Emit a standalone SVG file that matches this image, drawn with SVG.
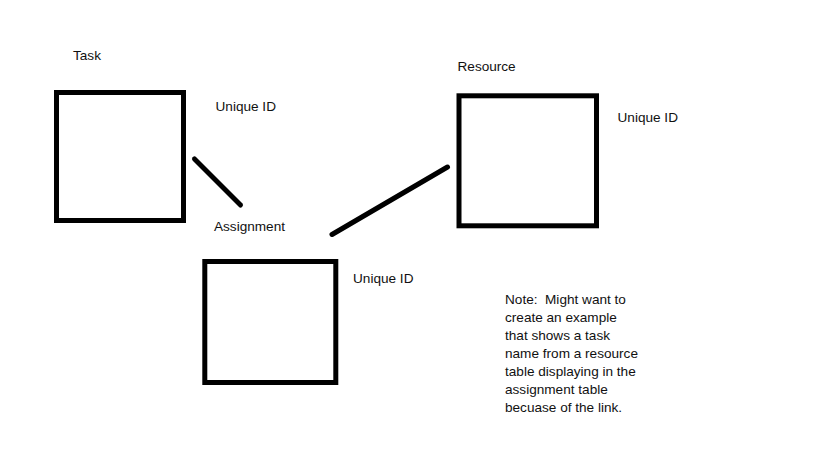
<svg xmlns="http://www.w3.org/2000/svg" width="819" height="460" viewBox="0 0 819 460">
<style>
.box{fill:none;stroke:#000;stroke-width:5}
.lnk{stroke:#000;stroke-width:5;stroke-linecap:round;fill:none}
text{font-family:"Liberation Sans",Arial,sans-serif;font-size:13.6px;fill:#111}
</style>
<rect width="819" height="460" fill="#fff"/>
<g id="task">
<rect class="box" x="56.5" y="92.5" width="127" height="128"/>
<text x="73" y="60">Task</text>
<text x="215.5" y="111">Unique ID</text>
</g>
<g id="assignment">
<rect class="box" x="204.8" y="261.5" width="131" height="121"/>
<text x="214" y="231">Assignment</text>
<text x="353" y="283">Unique ID</text>
</g>
<g id="resource">
<rect class="box" x="459" y="95.8" width="137.5" height="130"/>
<text x="457.5" y="71">Resource</text>
<text x="617.5" y="122">Unique ID</text>
</g>
<g id="connectors">
<line class="lnk" x1="194.5" y1="159" x2="240.5" y2="205"/>
<line class="lnk" x1="332" y1="234.5" x2="447.5" y2="167"/>
</g>
<g id="note">
<text x="505" y="304">Note:&#160; Might want to</text>
<text x="505" y="322">create an example</text>
<text x="505" y="340">that shows a task</text>
<text x="505" y="358">name from a resource</text>
<text x="505" y="376">table displaying in the</text>
<text x="505" y="394">assignment table</text>
<text x="505" y="412">becuase of the link.</text>
</g>
</svg>
